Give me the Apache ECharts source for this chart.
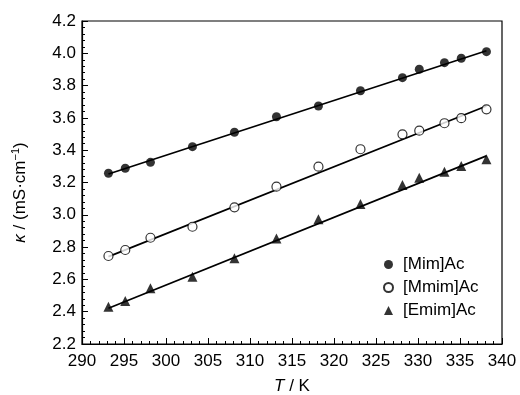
<!DOCTYPE html>
<html>
<head>
<meta charset="utf-8">
<script src="https://cdn.jsdelivr.net/npm/echarts@6/dist/echarts.min.js"></script>
<style>
  html, body { margin: 0; padding: 0; background: #fff; }
  #chart { width: 520px; height: 395px; }
</style>
</head>
<body>
<div id="chart"></div>
<script>
const temps = [293.15, 295.15, 298.15, 303.15, 308.15, 313.15, 318.15, 323.15, 328.15, 330.15, 333.15, 335.15, 338.15];
const mimAc = [3.257, 3.288, 3.325, 3.422, 3.511, 3.607, 3.674, 3.768, 3.849, 3.901, 3.942, 3.969, 4.010];
const mmimAc = [2.745, 2.782, 2.858, 2.926, 3.046, 3.174, 3.298, 3.406, 3.498, 3.521, 3.567, 3.598, 3.653];
const emimAc = [2.431, 2.466, 2.545, 2.617, 2.731, 2.854, 2.972, 3.067, 3.185, 3.230, 3.267, 3.302, 3.344];
// fitted straight lines, end points
const fitT = [293.15, 338.15];
const fitMim = [3.253, 4.016];
const fitMmim = [2.741, 3.674];
const fitEmim = [2.421, 3.365];

const font = 'Liberation Sans, Arial, sans-serif';
const pair = (xs, ys) => xs.map((x, i) => [x, ys[i]]);

const chart = echarts.init(document.getElementById('chart'));

function fitLine(ys) {
  return {
    type: 'line',
    data: pair(fitT, ys),
    showSymbol: false,
    silent: true,
    lineStyle: {color: '#000', width: 1.7},
    z: 1
  };
}

chart.setOption({
  animation: false,
  backgroundColor: '#fff',
  grid: {
    left: 82, right: 18, top: 21, bottom: 51,
    outerBoundsMode: 'none',
    containLabel: false,
    show: true, borderColor: '#000', borderWidth: 1.2
  },
  xAxis: {
    type: 'value',
    min: 290, max: 340, interval: 5,
    name: '{i|T} / K',
    nameLocation: 'middle',
    nameGap: 34,
    nameTextStyle: {
      color: '#000', fontSize: 17, fontFamily: font,
      rich: {i: {fontStyle: 'italic', fontSize: 17, fontFamily: font, color: '#000'}}
    },
    axisLine: {lineStyle: {color: '#000', width: 1.2}},
    axisTick: {inside: true, length: 6, lineStyle: {color: '#000'}},
    minorTick: {show: true, splitNumber: 5, length: 3, lineStyle: {color: '#000'}},
    axisLabel: {color: '#000', fontSize: 17, fontFamily: font, margin: 9},
    splitLine: {show: false}
  },
  yAxis: {
    type: 'value',
    min: 2.2, max: 4.2, interval: 0.2,
    name: '{i|κ} / (mS·cm{s|−1})',
    nameLocation: 'middle',
    nameRotate: 90,
    nameGap: 52,
    nameTextStyle: {
      color: '#000', fontSize: 17, fontFamily: font,
      padding: [0, 20, 0, 0],
      rich: {
        i: {fontStyle: 'italic', fontSize: 17, fontFamily: font, color: '#000'},
        s: {fontSize: 11, fontFamily: font, color: '#000', verticalAlign: 'top', padding: [0, 0, 9, 0]}
      }
    },
    axisLine: {show: true, lineStyle: {color: '#000', width: 1.2}},
    axisTick: {inside: true, length: 6, lineStyle: {color: '#000'}},
    minorTick: {show: true, splitNumber: 5, length: 3, lineStyle: {color: '#000'}},
    axisLabel: {
      color: '#000', fontSize: 17, fontFamily: font, margin: 6,
      formatter: v => v.toFixed(1)
    },
    splitLine: {show: false}
  },
  legend: {
    orient: 'vertical',
    left: 378, top: 251,
    itemWidth: 9, itemHeight: 9, itemGap: 6,
    textStyle: {color: '#000', fontSize: 17, fontFamily: font, padding: [0, 0, 0, 5]},
    data: ['[Mim]Ac', '[Mmim]Ac', '[Emim]Ac']
  },
  series: [
    fitLine(fitMim),
    fitLine(fitMmim),
    fitLine(fitEmim),
    {
      name: '[Mim]Ac', type: 'scatter', data: pair(temps, mimAc),
      symbol: 'circle', symbolSize: 9,
      itemStyle: {color: '#000'}, z: 3
    },
    {
      name: '[Mmim]Ac', type: 'scatter', data: pair(temps, mmimAc),
      symbol: 'circle', symbolSize: 9,
      itemStyle: {color: '#fff', borderColor: '#000', borderWidth: 1.2}, z: 3
    },
    {
      name: '[Emim]Ac', type: 'scatter', data: pair(temps, emimAc),
      symbol: 'triangle', symbolSize: 10,
      itemStyle: {color: '#000'}, z: 3
    }
  ]
});
</script>
</body>
</html>
